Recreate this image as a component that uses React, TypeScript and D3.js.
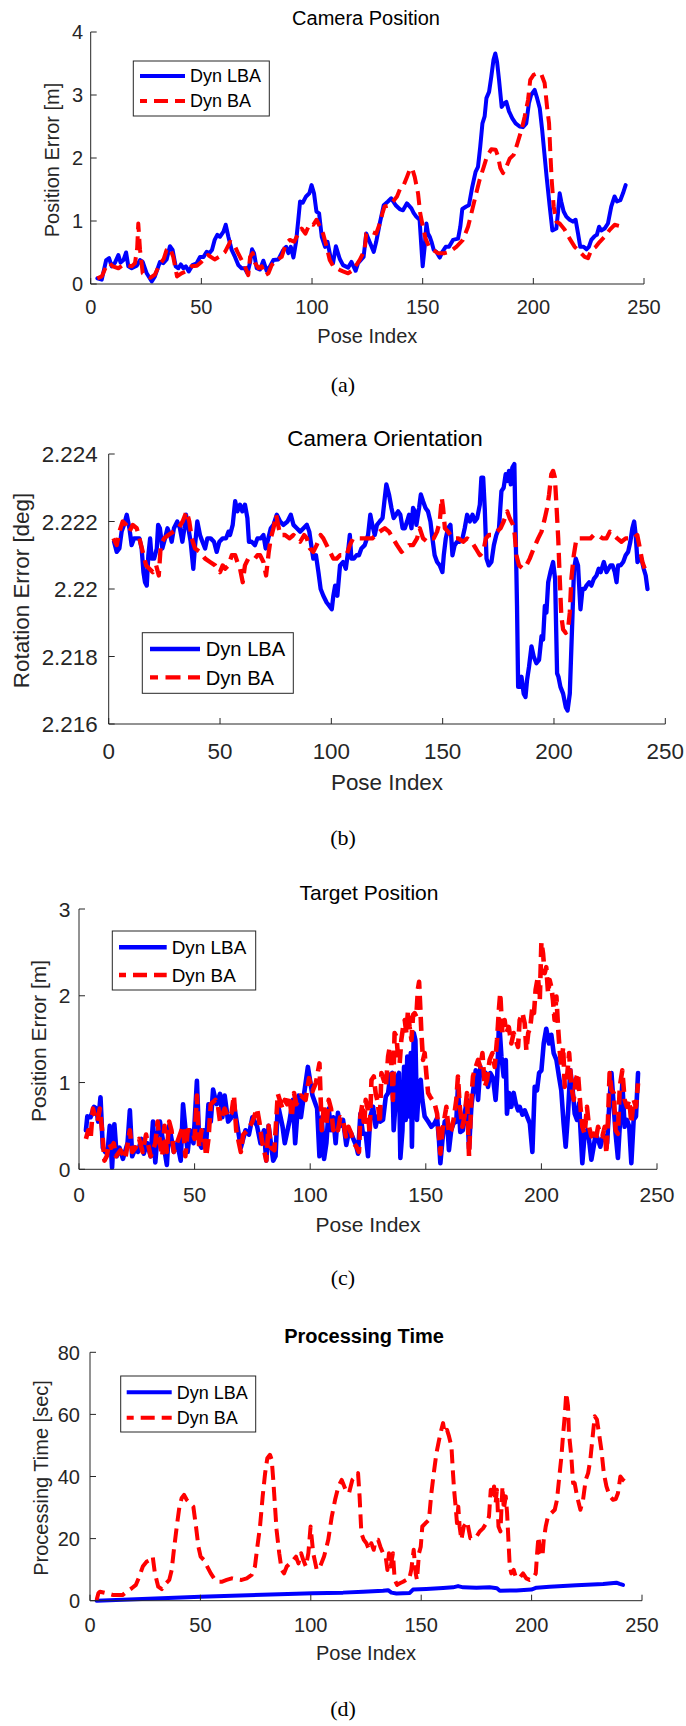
import React from 'react';
import * as d3 from 'd3';

type Pt = [number, number];

// ---------------- data ----------------
const seriesNames = ['Dyn LBA', 'Dyn BA'];
const poseTicks = [0, 50, 100, 150, 200, 250];
const camPosTicks = [0, 1, 2, 3, 4];
const camOriTicks = [2.216, 2.218, 2.22, 2.222, 2.224];
const camOriTickLabels = ['2.216', '2.218', '2.22', '2.222', '2.224'];
const tgtPosTicks = [0, 1, 2, 3];
const procTimeTicks = [0, 20, 40, 60, 80];

const camPosLba: Pt[] = [[3,0.09],[5,0.07],[7,0.38],[8.3,0.41],[9.5,0.28],[11,0.34],[12.5,0.46],[13.5,0.34],[14.8,0.38],[16,0.5],[17,0.28],[18.5,0.25],[20.8,0.29],[22.3,0.38],[23.5,0.35],[25.3,0.17],[27.6,0.04],[29,0.12],[31.3,0.35],[32.8,0.33],[34.3,0.39],[35.8,0.6],[37,0.54],[38.4,0.28],[39.6,0.25],[40.7,0.31],[41.9,0.25],[43,0.28],[44.3,0.2],[46,0.3],[47.9,0.33],[49.4,0.43],[51,0.43],[52.4,0.51],[53.6,0.49],[54.8,0.54],[56,0.7],[57.2,0.78],[58.4,0.75],[60,0.83],[61,0.94],[62.2,0.75],[63.7,0.54],[65.2,0.43],[66.7,0.3],[68.2,0.25],[69.6,0.25],[70.8,0.17],[72,0.34],[72.9,0.55],[73.8,0.49],[75,0.25],[76.5,0.23],[78,0.37],[79.5,0.21],[81,0.28],[82.5,0.38],[84.8,0.39],[87,0.54],[88.3,0.59],[89.3,0.49],[90.4,0.59],[91.6,0.42],[92.8,0.67],[93.8,1.02],[94.6,1.31],[95.8,1.29],[97.3,1.39],[98.8,1.44],[99.8,1.57],[100.9,1.44],[102,1.15],[103.2,1.12],[104.4,0.75],[105.9,0.59],[107,0.67],[108.5,0.4],[109.5,0.33],[110.8,0.6],[112.5,0.4],[114,0.3],[116.3,0.26],[117.8,0.35],[119.7,0.21],[120.8,0.33],[122.3,0.39],[123.3,0.43],[124.5,0.8],[126,0.67],[127.9,0.51],[129,0.67],[130.6,0.96],[132.4,1.25],[134.3,1.31],[135.8,1.36],[137.8,1.25],[139.6,1.19],[141.1,1.17],[142.9,1.28],[144.9,1.2],[145.9,1.13],[147.1,1.07],[148.6,1.02],[149.5,0.54],[150,0.28],[150.9,0.59],[151.7,0.96],[152.4,0.8],[153.2,0.75],[154,0.67],[155,0.54],[156.2,0.51],[157.7,0.42],[158.9,0.51],[160.4,0.59],[161.9,0.59],[163.7,0.7],[166,0.72],[167,0.91],[167.9,1.19],[169.7,1.23],[170.9,1.25],[172.4,1.54],[173.9,1.78],[175,1.86],[176,2.18],[177,2.55],[178,2.66],[178.8,2.95],[180,3.05],[181,3.29],[182,3.56],[182.8,3.66],[183.6,3.53],[184.5,3.24],[185.7,2.81],[186.9,2.87],[187.8,2.89],[189,2.74],[190.5,2.63],[192,2.55],[193.8,2.5],[195.3,2.49],[196.8,2.55],[198,2.87],[199,3.0],[200.6,3.08],[201.7,2.95],[202.9,2.79],[204,2.44],[205,2.07],[206,1.7],[207.4,1.23],[208.6,0.85],[210.4,0.88],[211.1,1.12],[211.9,1.44],[212.6,1.31],[213.7,1.15],[214.9,1.07],[216.4,1.02],[217.9,0.99],[219.1,1.02],[220.2,0.8],[221.2,0.59],[222.7,0.59],[224,0.55],[225.1,0.59],[226.2,0.7],[227.7,0.76],[228.7,0.78],[229.7,0.91],[230.7,0.85],[232.2,0.88],[233.7,0.96],[235.2,1.23],[236.7,1.39],[237.8,1.31],[239.3,1.33],[240.5,1.44],[241.7,1.57]];

const camPosBa: Pt[] = [[3,0.09],[5,0.12],[7,0.28],[8.5,0.33],[10,0.28],[12.5,0.25],[14.5,0.3],[16.3,0.3],[18.5,0.28],[20,0.33],[21,0.57],[21.5,0.96],[22.3,0.54],[23.5,0.17],[25.3,0.13],[27,0.1],[29,0.15],[31,0.3],[33,0.4],[34.3,0.54],[35.8,0.57],[37.3,0.43],[39,0.12],[41,0.17],[43,0.2],[45.6,0.28],[48,0.29],[50,0.35],[53,0.46],[56,0.39],[58,0.43],[60.7,0.51],[63,0.67],[64.5,0.65],[66.3,0.51],[68.2,0.38],[69.7,0.28],[71.2,0.14],[72,0.43],[73.2,0.49],[74.3,0.33],[75.8,0.25],[77.3,0.28],[78.8,0.14],[80.3,0.17],[81.8,0.3],[84,0.38],[86.3,0.43],[88.3,0.65],[90,0.7],[91.9,0.67],[93.8,0.8],[95.3,0.88],[97,0.8],[99,0.96],[100.6,0.94],[102,1.02],[103.6,0.91],[105,0.8],[106.6,0.59],[108,0.38],[109.6,0.28],[112.7,0.22],[114,0.2],[116.3,0.17],[118.5,0.22],[121.5,0.38],[123.8,0.54],[124.5,0.8],[126.8,0.83],[129,0.8],[130.9,0.99],[131.8,1.12],[132.8,1.23],[135,1.25],[136.6,1.31],[138.4,1.39],[139.9,1.52],[141.4,1.57],[142.9,1.7],[144.1,1.81],[145.2,1.84],[146.4,1.7],[147.9,1.44],[148.9,1.12],[150.1,0.91],[151.3,0.72],[152.9,0.59],[154.7,0.54],[156.9,0.49],[159.9,0.49],[162.2,0.51],[165.2,0.59],[168.2,0.7],[170.5,0.91],[172,1.12],[174.2,1.44],[175.7,1.65],[177.6,1.86],[179,2.02],[181,2.14],[183,2.13],[184,2.03],[185.1,1.84],[186.3,1.76],[187.8,1.86],[189.3,1.99],[191.1,2.05],[192.6,2.21],[194.6,2.44],[196.1,2.66],[197.6,2.92],[198.6,3.24],[200.1,3.32],[202.1,3.35],[203.6,3.33],[205.1,3.19],[206.2,2.81],[207.1,2.55],[207.7,2.07],[208.3,1.65],[209.2,1.23],[210.4,0.99],[211.9,0.96],[214.2,0.86],[216.4,0.72],[218.7,0.59],[221,0.51],[223.2,0.43],[224.7,0.41],[226.2,0.54],[228.2,0.59],[230,0.67],[232.2,0.75],[234.5,0.86],[236.7,0.94],[239,0.92],[241.3,0.9]];

const camOriLba: Pt[] = [[2.4,2.2214],[3.6,2.2211],[4.8,2.2212],[5.8,2.2217],[6.9,2.2219],[8.1,2.2222],[9.3,2.2218],[10.3,2.2213],[11.4,2.2215],[12.6,2.2215],[13.8,2.2215],[14.8,2.2212],[15.6,2.2205],[16.3,2.2202],[17.1,2.2201],[17.8,2.221],[18.6,2.2215],[19.3,2.2209],[20.4,2.2209],[21.6,2.2212],[22.2,2.2219],[23,2.2218],[24.1,2.2212],[25.3,2.2215],[26.4,2.2218],[27.6,2.2216],[28.3,2.2214],[29.3,2.2218],[30.8,2.222],[32,2.2218],[33.1,2.2214],[34,2.2218],[34.7,2.2222],[35.8,2.2218],[36.8,2.2214],[38,2.2206],[38.8,2.2213],[39.8,2.222],[41,2.2216],[42.1,2.2214],[43.3,2.2212],[44.3,2.2215],[45.8,2.2215],[47.3,2.2214],[48.5,2.2211],[49.7,2.2214],[51.2,2.2215],[52.7,2.2215],[53.8,2.2217],[54.5,2.2216],[55.7,2.2219],[56.8,2.2226],[57.8,2.2223],[59,2.2225],[60,2.2223],[61.2,2.2225],[62.3,2.2221],[63,2.2214],[64.2,2.2214],[65.7,2.2213],[66.8,2.2215],[68.3,2.2215],[69.5,2.2216],[70.5,2.2212],[71.7,2.2215],[72.8,2.2218],[74,2.2219],[75.5,2.2222],[77,2.222],[78.5,2.2219],[80.3,2.222],[81.8,2.2222],[83,2.2219],[84.5,2.2218],[86,2.2217],[87.5,2.2218],[89,2.2219],[90.1,2.2217],[91.2,2.2212],[91.9,2.2209],[93.1,2.221],[94.2,2.2205],[95.2,2.22],[96.4,2.2198],[97.9,2.2196],[99.1,2.2195],[100.2,2.2194],[100.9,2.2198],[101.7,2.2201],[102.7,2.2198],[103.9,2.2207],[105.3,2.2208],[106.5,2.2206],[107.5,2.2211],[108.3,2.2216],[109,2.2209],[110.1,2.2209],[111.3,2.221],[112.4,2.221],[113.5,2.2212],[115,2.2213],[116.5,2.2216],[117.5,2.2222],[118.4,2.2219],[119.5,2.2216],[120.5,2.2219],[121.7,2.222],[123,2.2221],[124,2.2227],[124.7,2.2231],[125.9,2.2228],[127,2.2224],[128,2.2221],[129,2.2222],[130,2.2223],[131,2.2222],[132,2.2218],[133,2.2218],[134,2.222],[134.9,2.2222],[136,2.2218],[136.7,2.2224],[137.5,2.2223],[138.2,2.2219],[139.4,2.2224],[140.2,2.2228],[141.2,2.2226],[142.3,2.2224],[143.4,2.2223],[144.5,2.222],[145.4,2.2215],[146.4,2.221],[147.5,2.2208],[148.7,2.2207],[149.9,2.2205],[150.5,2.221],[151.4,2.2215],[152.4,2.2218],[153.5,2.2219],[154.4,2.221],[155.4,2.2213],[156.5,2.2214],[157.7,2.2214],[158.9,2.2215],[159.9,2.2218],[161,2.2222],[162.2,2.222],[163.4,2.2222],[164.4,2.222],[165.5,2.2221],[166.7,2.2225],[167.4,2.2233],[168.2,2.2233],[168.9,2.2224],[169.7,2.2209],[170.7,2.2207],[171.9,2.2208],[173,2.2213],[174.1,2.2216],[175.3,2.2218],[176.4,2.2229],[177.4,2.223],[178.3,2.2234],[179.1,2.2232],[179.8,2.2235],[180.6,2.2231],[181.3,2.2236],[182.2,2.2237],[182.8,2.2216],[183.4,2.2195],[183.9,2.2171],[184.6,2.2171],[185.4,2.2174],[186.4,2.2169],[187.2,2.2168],[187.9,2.2173],[188.8,2.2177],[189.9,2.2183],[190.9,2.218],[192.1,2.2178],[193.3,2.2179],[194.4,2.2186],[195.1,2.2185],[195.9,2.2195],[196.6,2.2193],[197.4,2.2202],[198.4,2.2205],[199.6,2.2208],[200.5,2.2203],[201.4,2.2175],[202,2.2174],[202.9,2.2171],[204.1,2.2169],[205.3,2.2165],[206.1,2.2164],[207.1,2.2169],[208.3,2.2192],[209,2.2206],[209.8,2.2209],[210.8,2.2207],[211.9,2.2194],[212.8,2.22],[213.8,2.22],[214.6,2.2201],[215.8,2.2202],[216.8,2.2201],[217.9,2.2203],[219.1,2.2204],[220.1,2.2206],[221,2.2205],[222.4,2.2208],[223.6,2.2205],[224.5,2.2206],[225.4,2.2207],[226.3,2.2207],[227.3,2.2205],[228.1,2.2202],[228.8,2.2207],[229.9,2.2207],[231.1,2.2208],[232.2,2.221],[233.3,2.2211],[234.3,2.2214],[235.2,2.2218],[236,2.222],[236.7,2.2216],[237.5,2.2208],[238.6,2.2209],[239.3,2.2209],[240.3,2.2206],[241.2,2.2204],[242,2.22]];

const camOriBa: Pt[] = [[2.1,2.2215],[3.6,2.2213],[4.8,2.2217],[6.3,2.222],[7.8,2.2219],[9.3,2.2217],[10.8,2.2219],[12.6,2.2218],[13.8,2.2215],[15.3,2.2211],[16.8,2.2207],[18.3,2.2206],[19.8,2.2205],[21.3,2.2207],[22.5,2.2204],[23.4,2.2213],[24.9,2.2215],[26.8,2.2216],[29.1,2.2217],[31.3,2.2218],[33.2,2.222],[35,2.2223],[36.2,2.222],[37.3,2.2215],[38.8,2.2212],[41,2.2211],[43.3,2.2209],[45.5,2.2208],[47.8,2.2207],[50,2.2205],[51.2,2.2207],[52.3,2.2206],[53.8,2.2207],[55.3,2.221],[56.8,2.221],[57.8,2.2208],[59,2.2206],[60.2,2.2202],[61.2,2.2207],[62.7,2.2209],[64.2,2.2209],[65.7,2.2209],[66.8,2.221],[68,2.221],[69.5,2.2208],[70.7,2.2204],[71.9,2.2211],[72.8,2.2215],[74,2.2218],[75.2,2.2222],[77,2.2216],[79.2,2.2216],[81.2,2.2215],[83,2.2216],[84.5,2.2215],[86,2.2214],[87.8,2.2216],[89,2.2215],[90.4,2.2212],[91.9,2.2211],[93.4,2.2213],[95.2,2.2216],[96.4,2.2215],[97.9,2.2213],[99.4,2.2211],[100.9,2.2209],[102.4,2.2209],[103.9,2.221],[105.3,2.221],[106.8,2.221],[108.3,2.2213],[109.8,2.2215],[112,2.2215],[113.5,2.2215],[115,2.2215],[117,2.2215],[118.4,2.2215],[120,2.2216],[121.7,2.2217],[124,2.2218],[125.9,2.2217],[127.7,2.2215],[129.5,2.2213],[131.5,2.2211],[133.4,2.2212],[134.9,2.2213],[136.7,2.2213],[138.5,2.2215],[139.7,2.2218],[141.2,2.2215],[143,2.2214],[144.5,2.2215],[146,2.2215],[147.5,2.2217],[148.7,2.222],[149.6,2.2227],[150.2,2.2224],[151,2.2218],[152.4,2.2217],[154.7,2.2215],[157,2.2215],[159.2,2.2214],[161,2.2215],[163,2.2214],[164.9,2.2212],[166.7,2.221],[168.2,2.2211],[169.4,2.2215],[170.8,2.2216],[172.6,2.2216],[174.4,2.2217],[176,2.2218],[177.4,2.222],[179,2.2223],[180.1,2.2221],[181.6,2.2219],[182.4,2.2216],[183.1,2.221],[184.3,2.2207],[186.1,2.2206],[187.6,2.2207],[189.1,2.2209],[190.9,2.2212],[192.9,2.2215],[194.4,2.2217],[195.9,2.2221],[196.9,2.2224],[197.8,2.2228],[198.8,2.2234],[199.6,2.2235],[200.4,2.2233],[201.1,2.2225],[201.9,2.2215],[202.6,2.2203],[203.3,2.2192],[204.1,2.2188],[205.3,2.2187],[206.3,2.2188],[207.1,2.2193],[207.8,2.2203],[208.9,2.221],[210.1,2.2215],[211.6,2.2215],[213.1,2.2215],[214.6,2.2215],[216.4,2.2215],[217.9,2.2216],[219.8,2.2216],[221.8,2.2215],[223.6,2.2215],[225.1,2.2217],[226.9,2.2216],[228.4,2.2215],[230.3,2.2214],[232.2,2.2215],[234.1,2.2215],[235.8,2.2215],[237.4,2.2216],[238.6,2.2212],[239.7,2.2208],[240.8,2.2206],[241.8,2.2207]];

const tgtPosLba: Pt[] = [[3,0.45],[3.6,0.61],[5,0.6],[6.5,0.72],[7.5,0.7],[8.3,0.55],[9.3,0.83],[10.3,0.25],[11.3,0.2],[12.3,0.18],[13.3,0.5],[14.3,0.02],[15.3,0.52],[16.3,0.15],[17.5,0.25],[19,0.12],[21,0.3],[22,0.68],[23,0.15],[24.5,0.25],[25.5,0.2],[27,0.35],[28,0.18],[29.5,0.3],[31,0.15],[32,0.55],[33,0.08],[34,0.4],[35,0.55],[36.5,0.3],[38,0.05],[39,0.5],[41,0.2],[42.5,0.3],[44,0.1],[45,0.75],[47,0.2],[48,0.45],[49.5,0.3],[51,1.02],[52,0.3],[53,0.25],[54,0.45],[55,0.3],[56,0.75],[57,0.55],[58,0.92],[59.5,0.75],[61,0.87],[62,0.6],[63,0.85],[64.5,0.55],[66,0.6],[67,0.75],[68.5,0.5],[70,0.25],[72,0.45],[73.5,0.4],[75,0.6],[77,0.5],[78.5,0.3],[80,0.45],[81,0.1],[82,0.5],[84,0.1],[85,0.15],[86,0.75],[88,0.5],[89,0.3],[91,0.55],[92.5,0.8],[93.5,0.3],[95,0.85],[96,0.6],[97,0.8],[99,1.18],[101,0.85],[103,0.7],[104,0.15],[105,0.6],[106,0.12],[107,0.3],[108,0.7],[109,0.45],[110,0.6],[111,0.3],[112,0.65],[113,0.5],[114.2,0.57],[115.6,0.28],[116.8,0.45],[117.8,0.41],[118.8,0.34],[119.8,0.28],[120.7,0.18],[121.7,0.64],[122.8,0.41],[124,0.41],[125,0.15],[126,0.61],[127.2,0.72],[128.3,0.49],[129.3,0.61],[130.3,0.55],[131.5,0.57],[132.7,0.84],[133.7,0.88],[134.7,1.09],[135.5,1.11],[136.1,0.45],[136.8,0.72],[137.6,1.07],[138.4,1.11],[139,0.13],[139.9,0.45],[140.6,1.18],[141.3,0.57],[142,1.3],[142.7,0.61],[143.5,1.34],[144,0.26],[144.8,1.57],[145.5,1.49],[146.2,0.57],[147.1,0.99],[147.8,1.03],[148.5,0.8],[149.5,0.61],[151,0.55],[152.4,0.49],[153.8,0.53],[154.9,0.59],[155.7,0.34],[156.3,0.07],[157.2,0.34],[158.2,0.55],[159.2,0.57],[160,0.22],[161,0.45],[162,0.53],[163.2,0.55],[163.9,0.95],[164.9,0.43],[166,0.45],[166.8,0.64],[167.8,0.8],[168.7,0.24],[169.7,0.72],[170.7,0.95],[171.6,1.14],[172.6,0.8],[173.6,1.18],[174.8,1.09],[175.9,1.11],[176.9,0.95],[177.9,1.11],[179.1,1.05],[180.2,0.8],[180.9,1.07],[181.7,1.72],[182.7,1.3],[183.7,1.07],[184.6,1.26],[185.1,0.64],[186,0.88],[187,0.72],[188,0.88],[188.9,0.76],[189.9,0.68],[190.6,0.72],[191.8,0.63],[192.8,0.68],[193.8,0.61],[195,0.53],[196.1,0.2],[197.1,0.95],[198.1,0.91],[199,1.11],[200,1.14],[201,1.45],[202.1,1.62],[203.3,1.45],[204.3,1.55],[205.3,1.34],[206.5,1.26],[207.6,1.07],[208.6,0.91],[209.6,0.53],[210.5,0.26],[211.5,0.64],[212.5,1.14],[213.4,0.95],[214.4,0.64],[215.4,0.57],[216.3,0.76],[217,0.41],[217.7,0.07],[218.7,0.41],[219.7,0.45],[220.6,0.34],[221.6,0.11],[222.6,0.26],[223.5,0.41],[224.5,0.34],[225.5,0.26],[226.4,0.36],[227.4,0.38],[228.4,0.3],[229.5,0.8],[230.3,1.11],[231.3,0.72],[232.1,0.41],[233.1,0.13],[234.2,0.64],[235,0.99],[236,0.49],[237,0.57],[238,0.49],[238.9,0.07],[239.9,0.57],[240.9,0.61],[241.8,1.11]];

const tgtPosBa: Pt[] = [[3,0.35],[4,0.45],[5,0.35],[6,0.7],[7,0.6],[8,0.55],[9,0.7],[10,0.45],[11,0.1],[12,0.15],[13,0.3],[14,0.25],[15,0.3],[16,0.15],[18,0.22],[20,0.12],[22,0.45],[23,0.2],[24.5,0.25],[26,0.35],[27.5,0.2],[29,0.4],[31,0.15],[33,0.3],[34,0.55],[35,0.3],[36,0.15],[37,0.5],[38,0.2],[39,0.55],[40,0.45],[41,0.2],[43,0.35],[45,0.5],[46,0.15],[47,0.45],[49,0.45],[50,0.35],[51,0.85],[52,0.25],[53,0.45],[54,0.4],[55,0.15],[56,0.35],[57,0.75],[59,0.8],[60,0.75],[61,0.55],[63,0.7],[64.5,0.6],[66,0.65],[67,0.85],[68,0.45],[70,0.2],[71,0.4],[73,0.45],[75,0.55],[77,0.7],[78,0.55],[79,0.35],[81,0.1],[82,0.5],[83,0.25],[84.5,0.22],[86,0.87],[88,0.7],[89,0.8],[90,0.75],[91,0.85],[92,0.6],[93,0.88],[94,0.75],[96,0.85],[98,0.8],[99.5,1.05],[101,0.9],[102.5,1.0],[104,1.22],[105,0.45],[106,0.75],[107,0.5],[108,0.8],[109,0.7],[110,0.45],[111,0.5],[112,0.45],[113,0.6],[114.2,0.57],[115.4,0.38],[116.5,0.49],[117.8,0.41],[118.8,0.3],[120,0.26],[121.1,0.2],[121.7,0.61],[122.6,0.76],[123.3,0.49],[124,0.8],[125,0.68],[125.7,0.41],[126.5,1.03],[127.5,1.07],[128.3,0.88],[129.3,0.76],[130.1,0.53],[130.8,1.11],[131.8,1.03],[132.7,0.95],[133.7,1.3],[134.4,1.41],[135.1,1.22],[135.8,0.8],[136.5,1.57],[137.3,1.53],[138,1.3],[138.7,1.22],[139.4,1.49],[140.2,1.64],[140.9,1.72],[141.6,1.57],[142.3,1.83],[143,1.64],[143.8,1.49],[144.5,1.78],[145.2,1.8],[145.9,1.76],[146.6,2.08],[147.1,2.16],[147.6,1.87],[148.1,1.57],[148.8,1.26],[149.5,1.34],[150.2,1.11],[151,0.88],[151.8,0.84],[152.8,0.8],[153.8,0.76],[154.9,0.64],[155.7,0.38],[156.3,0.18],[157.2,0.45],[158.2,0.61],[158.9,0.72],[160,0.41],[161,0.45],[162,0.57],[163.2,0.8],[163.9,1.07],[164.7,0.72],[165.8,0.49],[166.8,0.61],[167.8,0.88],[168.7,0.15],[169.7,0.8],[170.4,1.07],[171.6,1.18],[172.6,1.26],[173.6,1.18],[174.5,1.34],[175.5,0.95],[176.5,1.03],[177.6,1.26],[178.8,1.34],[179.8,1.18],[180.8,1.49],[181.7,1.87],[182.2,2.03],[183.1,1.57],[184.1,1.72],[184.8,1.57],[185.9,1.64],[187,1.45],[188,1.57],[188.9,1.49],[189.9,1.41],[190.6,1.72],[191.8,1.8],[192.8,1.68],[193.5,1.37],[194.3,1.57],[195.2,1.64],[196.1,1.87],[196.8,1.8],[197.5,2.07],[198.5,2.22],[199.3,1.95],[200,2.62],[200.7,2.49],[201.4,2.26],[202.1,2.33],[202.9,2.03],[203.6,2.18],[204.3,2.1],[205,1.95],[205.7,1.72],[206.5,1.99],[207.2,1.64],[207.9,1.37],[208.6,1.18],[209.4,1.41],[210.1,0.95],[211.1,1.07],[212,1.34],[213,0.95],[214,0.8],[214.8,1.03],[215.8,1.11],[216.9,0.72],[217.7,0.49],[218.7,0.41],[219.7,0.72],[220.6,0.49],[221.6,0.38],[222.6,0.41],[223.5,0.34],[224.5,0.49],[225.5,0.41],[226.4,0.38],[227.4,0.49],[228.1,0.18],[228.8,0.57],[229.5,1.11],[230.3,0.91],[231.3,0.88],[232.1,0.45],[233.1,0.41],[233.9,0.95],[235,1.14],[236,0.8],[237,0.72],[238,0.8],[238.9,0.53],[239.9,0.8],[240.9,0.72],[241.8,0.99]];

const procTimeLba: Pt[] = [[3,0],[50,1.3],[101,2.4],[114.6,2.6],[123.7,2.9],[132.7,3.2],[135,3.4],[136.5,2.6],[138.8,2.3],[144.8,2.5],[146.3,3.6],[152.3,3.8],[159.9,4.1],[164.4,4.3],[166.7,4.7],[169,4.3],[175,4.2],[181,4.3],[184.3,4.0],[185.6,3.2],[193.1,3.3],[199.9,3.6],[202.2,4.2],[208.2,4.5],[220.3,5.0],[232.4,5.4],[238.4,5.8],[239.9,5.4],[241.4,5.1]];

const procTimeBa: Pt[] = [[3,0.2],[3.8,2.4],[4.5,2.9],[7.5,2.4],[10.6,1.8],[12.8,1.8],[14.7,1.8],[16.6,2.9],[18.9,4],[20.8,5.1],[22.3,7.7],[23.9,11],[25.7,12.6],[27.2,13.1],[28.4,14.2],[29.4,8.8],[30.9,4.5],[32.5,3.7],[34.4,5.6],[35.9,6.7],[37,9.9],[38,16.4],[39.3,23.9],[40.5,30.3],[41.5,33],[42.6,34.1],[43.8,32.5],[45.3,31.4],[46.8,30.3],[48,23.9],[49.1,17.4],[50.1,14.2],[51.6,13.1],[53.1,11],[54.7,8.8],[56.2,7.2],[58.1,6.1],[59.6,6.1],[61.9,6.7],[64.2,7.2],[66.4,6.9],[68.7,6.7],[71,7.2],[73.2,8.3],[74.7,11],[75.8,17.4],[77,23.9],[78.2,33.6],[79.3,41],[80.3,45.9],[81.5,47],[82.3,45.4],[83,38.9],[83.8,30.3],[84.5,22.8],[85.7,15.3],[86.8,9.9],[87.9,8.8],[89.1,11],[90.6,12],[92.1,13.1],[93.3,14.2],[94.4,12],[95.6,15.3],[96.6,13.1],[97.8,11],[98.9,15.3],[99.9,23.9],[101.1,15.3],[102.7,9.9],[104.2,11],[106,14.2],[107.9,19.6],[109.5,27.1],[111,32.5],[112.5,36.8],[114,38.9],[115.8,35.7],[117.3,34.6],[118.8,38.9],[120.3,40],[121.4,41.1],[122.1,33.6],[122.9,21.7],[124,19.6],[125.2,18.5],[126.4,16.4],[127.4,18.5],[128.5,16.4],[129.4,19.6],[130.5,19.6],[131.5,17.4],[132.7,15.3],[133.9,14.2],[134.7,9.9],[135.4,15.3],[136.2,11],[137.2,15.3],[138,6.7],[139.1,5.1],[140.3,5.6],[141.8,6.1],[143.3,6.7],[144.5,6.7],[145.5,9.9],[146.6,16.4],[147.5,8.8],[148.1,6.7],[149,15.3],[149.8,17.4],[150.5,23.9],[152,25],[153.5,26],[154.6,34.6],[155.7,41.1],[156.9,47.5],[158.1,51.8],[159.1,55],[159.9,57.2],[160.6,54],[161.7,55],[162.6,52.9],[163.7,49.7],[164.4,41.1],[164.9,35.7],[165.6,30.3],[166.2,25],[166.8,30.3],[167.4,23.9],[168.2,19.6],[169.3,23.9],[170.8,25.5],[172.3,20.1],[173.8,20.1],[175,20.6],[176.5,22.3],[178,23.3],[179.5,25],[180.7,27.1],[181.5,35.7],[182.2,33.6],[183,36.8],[183.7,31.4],[184.3,35.7],[185,23.9],[185.9,22.3],[186.8,36.8],[187.4,29.3],[188.3,33.6],[188.9,28.2],[189.5,19.6],[190.1,11],[190.8,8.8],[191.9,9.9],[192.8,7.7],[194.3,7.2],[196.1,8.8],[197.6,7.2],[199.1,6.7],[200.6,7.2],[201.9,8.8],[202.5,15.3],[203.1,20.6],[204,15.3],[204.9,14.2],[205.5,19.6],[206.4,23.9],[207.4,27.1],[208.9,28.2],[210.5,29.3],[211.5,32.5],[212.4,38.9],[213.5,46.4],[214.2,52.9],[215,59.4],[215.7,66.9],[216.5,62.6],[216.9,54],[218,46.4],[218.8,37.9],[219.5,37.9],[220.6,33.6],[222.1,29.3],[223.3,32.5],[224.5,38.9],[225.6,41.1],[226.6,45.4],[227.5,51.8],[228.6,59.4],[229.6,58.3],[230.5,54],[231.6,48.6],[232.7,41.1],[233.9,36.8],[235.4,33.6],[236.9,32.5],[238.1,32.7],[239.1,34.6],[240.2,40],[241.4,38.9],[242.2,38.4]];

// ---------------- layout ----------------
const SANS = '"Liberation Sans", Arial, Helvetica, sans-serif';
const SERIF = '"Liberation Serif", "Times New Roman", serif';
const INK = '#262626';
const BLUE = '#0000ff';
const RED = '#ff0000';

interface PanelCfg {
  left: number; right: number; top: number; bottom: number;
  yDomain: [number, number]; yTicks: number[]; yTickLabels?: string[];
  fs: number; lw: number; dash: string;
  title: string; titleBold?: boolean; titleX: number; titleY: number;
  yLabel: string; yLabelX: number; yLabelY: number; yTickGap: number;
  xTickY: number; xLabelY: number;
  legend: { x0: number; x1: number; y0: number; y1: number; lx0: number; lx1: number; r1: number; r2: number; tx: number };
  lba: Pt[]; ba: Pt[];
  caption: string; captionY: number;
}

const panels: PanelCfg[] = [
  {
    left: 90.7, right: 644, top: 32, bottom: 284, yDomain: [0, 4], yTicks: camPosTicks,
    fs: 20, lw: 4, dash: '14 7',
    title: 'Camera Position', titleX: 366, titleY: 25,
    yLabel: 'Position Error [m]', yLabelX: 59, yLabelY: 160, yTickGap: 7.5,
    xTickY: 314, xLabelY: 343,
    legend: { x0: 133.3, x1: 269.3, y0: 61, y1: 116, lx0: 140, lx1: 185, r1: 76, r2: 101, tx: 190 },
    lba: camPosLba, ba: camPosBa, caption: '(a)', captionY: 392,
  },
  {
    left: 108.7, right: 665.3, top: 454, bottom: 724, yDomain: [2.216, 2.224], yTicks: camOriTicks, yTickLabels: camOriTickLabels,
    fs: 22.4, lw: 4.3, dash: '15 7.5',
    title: 'Camera Orientation', titleX: 385, titleY: 446,
    yLabel: 'Rotation Error [deg]', yLabelX: 29, yLabelY: 590.5, yTickGap: 11,
    xTickY: 758.5, xLabelY: 790,
    legend: { x0: 142.3, x1: 293.3, y0: 632.7, y1: 693.3, lx0: 150, lx1: 200, r1: 649, r2: 677.3, tx: 205.7 },
    lba: camOriLba, ba: camOriBa, caption: '(b)', captionY: 844.5,
  },
  {
    left: 79, right: 657, top: 909, bottom: 1169.3, yDomain: [0, 3], yTicks: tgtPosTicks,
    fs: 21, lw: 4.6, dash: '14 7',
    title: 'Target Position', titleX: 369, titleY: 900,
    yLabel: 'Position Error [m]', yLabelX: 45.8, yLabelY: 1041, yTickGap: 8.5,
    xTickY: 1201.5, xLabelY: 1232,
    legend: { x0: 112.3, x1: 255.7, y0: 931, y1: 990, lx0: 119, lx1: 166.7, r1: 947.3, r2: 975, tx: 171.7 },
    lba: tgtPosLba, ba: tgtPosBa, caption: '(c)', captionY: 1284.5,
  },
  {
    left: 90, right: 642, top: 1352.3, bottom: 1600.7, yDomain: [0, 80], yTicks: procTimeTicks,
    fs: 20, lw: 4, dash: '14 7',
    title: 'Processing Time', titleBold: true, titleX: 364, titleY: 1342.5,
    yLabel: 'Processing Time [sec]', yLabelX: 47.7, yLabelY: 1478, yTickGap: 10,
    xTickY: 1632, xLabelY: 1660,
    legend: { x0: 120.7, x1: 255.7, y0: 1376, y1: 1432, lx0: 126.7, lx1: 171.7, r1: 1392.3, r2: 1417.7, tx: 176.7 },
    lba: procTimeLba, ba: procTimeBa, caption: '(d)', captionY: 1715.5,
  },
];

function Panel({ p }: { p: PanelCfg }) {
  const x = d3.scaleLinear().domain([0, 250]).range([p.left, p.right]);
  const y = d3.scaleLinear().domain(p.yDomain).range([p.bottom, p.top]);
  const line = d3.line<Pt>().x(d => x(d[0])).y(d => y(d[1]));
  const tick = 6;
  const lfs = p.fs * 0.9;
  const L = p.legend;
  return (
    <g>
      <text x={p.titleX} y={p.titleY} textAnchor="middle" fontFamily={SANS} fontSize={p.fs}
        fontWeight={p.titleBold ? 'bold' : 'normal'} fill="#000">{p.title}</text>
      {/* data */}
      <path d={line(p.lba) || ''} fill="none" stroke={BLUE} strokeWidth={p.lw} strokeLinejoin="round" strokeLinecap="round" />
      <path d={line(p.ba) || ''} fill="none" stroke={RED} strokeWidth={p.lw} strokeDasharray={p.dash} strokeLinejoin="round" />
      {/* axes */}
      <line x1={p.left} x2={p.right} y1={p.bottom} y2={p.bottom} stroke={INK} strokeWidth={1} />
      <line x1={p.left} x2={p.left} y1={p.top} y2={p.bottom} stroke={INK} strokeWidth={1} />
      {poseTicks.map(t => (
        <g key={'x' + t}>
          <line x1={x(t)} x2={x(t)} y1={p.bottom} y2={p.bottom - tick} stroke={INK} strokeWidth={1} />
          <text x={x(t)} y={p.xTickY} textAnchor="middle" fontFamily={SANS} fontSize={p.fs} fill={INK}>{t}</text>
        </g>
      ))}
      {p.yTicks.map((t, i) => (
        <g key={'y' + i}>
          <line x1={p.left} x2={p.left + tick} y1={y(t)} y2={y(t)} stroke={INK} strokeWidth={1} />
          <text x={p.left - p.yTickGap} y={y(t)} dy="0.36em" textAnchor="end" fontFamily={SANS} fontSize={p.fs} fill={INK}>
            {p.yTickLabels ? p.yTickLabels[i] : String(t)}
          </text>
        </g>
      ))}
      <text x={(p.left + p.right) / 2} y={p.xLabelY} textAnchor="middle" fontFamily={SANS} fontSize={p.fs} fill={INK}>Pose Index</text>
      <text transform={`translate(${p.yLabelX},${p.yLabelY}) rotate(-90)`} textAnchor="middle" fontFamily={SANS} fontSize={p.fs} fill={INK}>{p.yLabel}</text>
      {/* legend */}
      <rect x={L.x0} y={L.y0} width={L.x1 - L.x0} height={L.y1 - L.y0} fill="#fff" stroke={INK} strokeWidth={1} />
      <line x1={L.lx0} x2={L.lx1} y1={L.r1} y2={L.r1} stroke={BLUE} strokeWidth={p.lw} />
      <line x1={L.lx0} x2={L.lx1} y1={L.r2} y2={L.r2} stroke={RED} strokeWidth={p.lw} strokeDasharray={p.dash} strokeDashoffset={7} />
      <text x={L.tx} y={L.r1} dy="0.36em" fontFamily={SANS} fontSize={lfs} fill="#000">{seriesNames[0]}</text>
      <text x={L.tx} y={L.r2} dy="0.36em" fontFamily={SANS} fontSize={lfs} fill="#000">{seriesNames[1]}</text>
      <text x={343} y={p.captionY} textAnchor="middle" fontFamily={SERIF} fontSize={22} fill="#000">{p.caption}</text>
    </g>
  );
}

export default function App() {
  return (
    <svg width={686} height={1726} viewBox="0 0 686 1726"
      style={{ position: 'absolute', left: 0, top: 0, display: 'block', background: '#fff' }}>
      <rect x={0} y={0} width={686} height={1726} fill="#fff" />
      {panels.map((p, i) => <Panel key={i} p={p} />)}
    </svg>
  );
}
